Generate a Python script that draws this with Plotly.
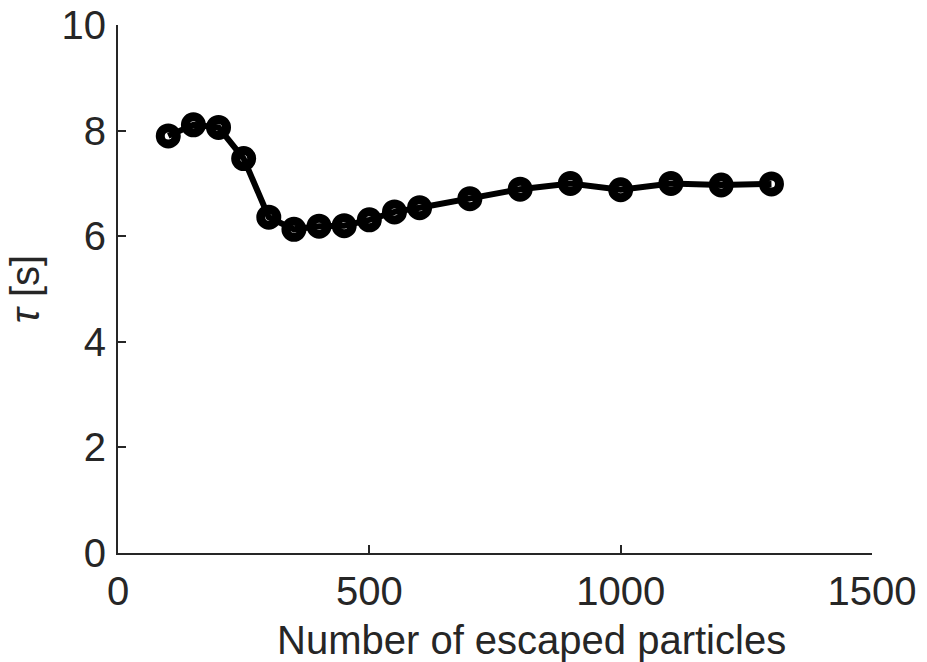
import plotly.graph_objects as go

# Relaxation time versus number of escaped particles
n_escaped = [100, 150, 200, 250, 300, 350, 400, 450, 500, 550, 600,
             700, 800, 900, 1000, 1100, 1200, 1300]
tau = [7.90, 8.11, 8.06, 7.47, 6.36, 6.13, 6.19, 6.20, 6.31, 6.46, 6.54,
       6.71, 6.89, 7.00, 6.88, 7.00, 6.97, 6.99]

x_ticks = [0, 500, 1000, 1500]
y_ticks = [0, 2, 4, 6, 8, 10]

axis_color = "#262626"
font_family = "Liberation Sans, Arial, Helvetica, sans-serif"
font_size = 40

fig = go.Figure(
    go.Scatter(
        x=n_escaped,
        y=tau,
        mode="lines+markers",
        line=dict(color="black", width=6),
        marker=dict(symbol="circle-open", size=16,
                    color="black", line=dict(color="black", width=9)),
        showlegend=False,
    )
)

common_axis = dict(
    showgrid=False,
    zeroline=False,
    showline=True,
    linecolor=axis_color,
    linewidth=2,
    ticks="inside",
    ticklen=8,
    tickwidth=2,
    tickcolor=axis_color,
    automargin=False,
    tickfont=dict(family=font_family, size=font_size, color=axis_color),
)

fig.update_layout(
    width=927,
    height=662,
    margin=dict(l=118, r=55, t=25, b=109),
    paper_bgcolor="white",
    plot_bgcolor="white",
    font=dict(family=font_family, color=axis_color),
    xaxis=dict(
        range=[0, 1500],
        tickvals=x_ticks,
        ticktext=[str(v) for v in x_ticks],
        ticklabelstandoff=2,
        **common_axis,
    ),
    yaxis=dict(
        range=[0, 10],
        tickvals=y_ticks,
        ticktext=[str(v) for v in y_ticks],
        ticklabelstandoff=2,
        title=dict(text="<i>τ</i> [s]",
                   font=dict(family=font_family, size=font_size, color=axis_color),
                   standoff=10),
        **common_axis,
    ),
)

# x-axis title placed as a paper-anchored annotation
fig.add_annotation(
    text="Number of escaped particles",
    xref="paper", yref="paper",
    x=0.549, y=-0.165,
    xanchor="center", yanchor="middle",
    showarrow=False,
    font=dict(family=font_family, size=font_size, color=axis_color),
)

fig.write_html("out.html")
